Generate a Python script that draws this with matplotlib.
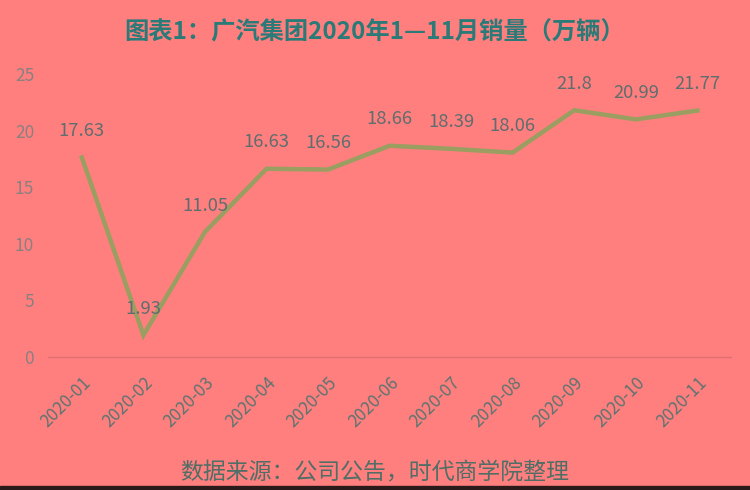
import matplotlib
matplotlib.use("Agg")
import matplotlib.pyplot as plt

plt.rcParams['font.family'] = ['Noto Sans CJK SC', 'DejaVu Sans']

months = ["2020-01", "2020-02", "2020-03", "2020-04", "2020-05", "2020-06",
          "2020-07", "2020-08", "2020-09", "2020-10", "2020-11"]
sales = [17.63, 1.93, 11.05, 16.63, 16.56, 18.66, 18.39, 18.06, 21.8, 20.99, 21.77]
labels = ["17.63", "1.93", "11.05", "16.63", "16.56", "18.66", "18.39", "18.06", "21.8", "20.99", "21.77"]
yticks = [0, 5, 10, 15, 20, 25]

bg = "#FF7F7F"
fig = plt.figure(figsize=(7.5, 4.9), dpi=100, facecolor=bg)
ax = fig.add_axes([0.064, 0.2714, 0.911, 0.5776], facecolor=bg)

x = list(range(len(months)))
ax.plot(x, sales, color="#9A9E60", linewidth=3.2, solid_joinstyle="miter", zorder=3)

for xi, v, t in zip(x, sales, labels):
    ax.annotate(t, (xi, v), xytext=(0, 19), textcoords="offset points",
                ha="center", va="center", fontsize=13.3, color="#5E6E6E", zorder=4)

ax.set_xlim(-0.55, 10.55)
ax.set_ylim(0, 25)
ax.set_yticks(yticks)
ax.set_yticklabels([str(v) for v in yticks], fontsize=12.5, color="#8A8080")
ax.set_xticks(x)
ax.set_xticklabels(months, rotation=45, ha="right", rotation_mode="anchor",
                   fontsize=12.3, color="#5E7470")
ax.tick_params(axis="both", length=0)
ax.tick_params(axis="y", pad=10)
ax.tick_params(axis="x", pad=12)
for s in ["top", "right", "left"]:
    ax.spines[s].set_visible(False)
ax.spines["bottom"].set_color("#E07070")
ax.spines["bottom"].set_linewidth(1)

fig.text(0.5, 0.933, "图表1：广汽集团2020年1—11月销量（万辆）", ha="center", va="center",
         fontsize=17.5, fontweight="bold", color="#2A7A78")
fig.text(0.5, 0.035, "数据来源：公司公告，时代商学院整理", ha="center", va="center",
         fontsize=16.5, color="#4F6E66")

fig.patches.append(matplotlib.patches.Rectangle((0, 0), 1, 0.009, transform=fig.transFigure,
                                                color="#2A1A1A", zorder=10))

fig.savefig("out.png", dpi=100, facecolor=bg)
